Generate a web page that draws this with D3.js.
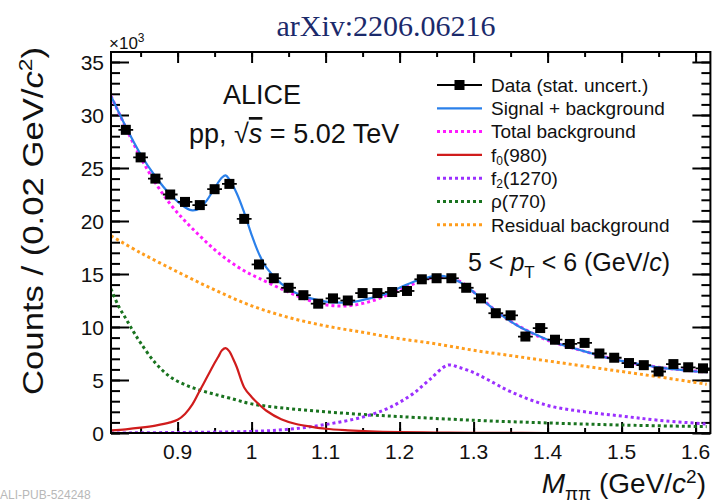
<!DOCTYPE html>
<html><head><meta charset="utf-8">
<script src="https://cdn.jsdelivr.net/npm/d3@7"></script>
<style>
body{margin:0;background:#fff;}
svg{display:block;}
text{font-family:"Liberation Sans",Arial,sans-serif;fill:#111;}
</style></head>
<body>
<svg id="c" width="713" height="503"></svg>
<script>
// ---------- data (counts in units of 10^3) ----------
const massBins = [0.83,0.85,0.87,0.89,0.91,0.93,0.95,0.97,0.99,1.01,1.03,1.05,1.07,1.09,1.11,1.13,1.15,1.17,1.19,1.21,1.23,1.25,1.27,1.29,1.31,1.33,1.35,1.37,1.39,1.41,1.43,1.45,1.47,1.49,1.51,1.53,1.55,1.57,1.59,1.61];
const counts = [28.6,26.0,24.0,22.5,21.8,21.5,23.0,23.5,20.2,15.9,14.6,13.7,13.0,12.2,12.7,12.5,13.2,13.2,13.3,13.4,14.5,14.6,14.6,13.7,12.7,11.3,11.1,9.1,9.9,8.8,8.4,8.5,7.5,7.1,6.6,6.4,5.8,6.5,6.2,6.1];
const countErr = [0.3,0.3,0.3,0.3,0.3,0.3,0.3,0.3,0.3,0.3,0.25,0.25,0.25,0.25,0.25,0.25,0.25,0.25,0.25,0.25,0.25,0.25,0.25,0.25,0.25,0.25,0.25,0.2,0.2,0.2,0.2,0.2,0.2,0.2,0.2,0.2,0.2,0.2,0.2,0.2];

const sigBgX = [0.81,0.83,0.85,0.87,0.89,0.91,0.92,0.93,0.94,0.95,0.96,0.965,0.97,0.98,0.99,1.0,1.01,1.02,1.04,1.06,1.08,1.10,1.12,1.14,1.16,1.18,1.20,1.22,1.24,1.25,1.26,1.28,1.30,1.32,1.34,1.36,1.38,1.40,1.42,1.44,1.46,1.48,1.50,1.52,1.54,1.56,1.58,1.60,1.615];
const sigBgY = [31.8,28.9,26.3,24.2,22.5,21.3,21.0,21.2,22.0,23.1,24.1,24.3,23.9,22.6,20.8,18.7,16.9,15.6,14.1,13.2,12.7,12.4,12.3,12.4,12.7,13.1,13.7,14.3,14.7,14.85,14.8,14.3,13.3,12.1,11.0,10.1,9.4,8.8,8.3,7.9,7.5,7.1,6.8,6.55,6.3,6.1,5.95,5.8,5.75];

const totBgX = [0.81,0.83,0.85,0.87,0.89,0.91,0.93,0.95,0.97,0.99,1.01,1.04,1.07,1.10,1.13,1.16,1.19,1.22,1.25,1.28,1.31,1.34,1.37,1.40,1.45,1.50,1.55,1.615];
const totBgY = [31.8,28.8,26.0,23.6,21.6,20.0,18.6,17.3,16.2,15.3,14.6,13.6,12.7,12.1,12.0,12.4,13.2,14.1,14.7,14.35,12.7,11.0,9.75,8.75,7.7,6.8,6.2,5.75];

const f0X = [0.81,0.83,0.85,0.87,0.89,0.90,0.91,0.92,0.93,0.94,0.95,0.955,0.96,0.965,0.97,0.975,0.98,0.99,1.00,1.01,1.02,1.04,1.06,1.08,1.10,1.13,1.16,1.20,1.25,1.30,1.40,1.50,1.615];
const f0Y = [0.25,0.35,0.5,0.7,1.0,1.25,1.8,2.7,4.0,5.3,6.6,7.2,7.8,8.0,7.7,7.0,6.2,4.3,3.4,2.7,2.1,1.3,0.85,0.6,0.4,0.25,0.15,0.08,0.04,0.02,0,0,0];

const f2X = [0.81,0.9,1.0,1.05,1.1,1.15,1.18,1.2,1.22,1.24,1.265,1.28,1.30,1.32,1.35,1.40,1.45,1.50,1.55,1.615];
const f2Y = [0.0,0.05,0.15,0.35,0.8,1.5,2.2,2.9,3.8,5.0,6.4,6.2,5.7,5.0,3.9,2.6,2.0,1.6,1.2,0.85];

const rhoX = [0.81,0.82,0.83,0.84,0.85,0.87,0.89,0.91,0.93,0.95,0.97,1.0,1.05,1.1,1.15,1.2,1.3,1.4,1.5,1.615];
const rhoY = [13.6,12.0,10.8,9.6,8.5,6.6,5.3,4.55,4.05,3.65,3.3,2.75,2.3,2.0,1.75,1.55,1.2,0.95,0.75,0.6];

const resBgX = [0.81,0.85,0.90,0.95,1.00,1.05,1.10,1.15,1.20,1.25,1.30,1.35,1.40,1.45,1.50,1.55,1.615];
const resBgY = [18.6,17.0,15.2,13.5,12.0,10.9,10.1,9.5,8.9,8.4,7.8,7.3,6.8,6.3,5.8,5.3,4.6];

const xTicks = [0.9,1.0,1.1,1.2,1.3,1.4,1.5,1.6];
const xTickLabels = ["0.9","1","1.1","1.2","1.3","1.4","1.5","1.6"];
const yTicks = [0,5,10,15,20,25,30,35];

const legendLabels = ["Data (stat. uncert.)","Signal + background","Total background","f0(980)","f2(1270)","ρ(770)","Residual background"];

// ---------- drawing ----------
const svg = d3.select("#c");
const L=111, R=710.4, T=52, B=433;
const x = d3.scaleLinear().domain([0.81,1.62]).range([L,R]);
const y = d3.scaleLinear().domain([0,36]).range([B,B-36*10.6]);

svg.append("clipPath").attr("id","pc").append("rect")
  .attr("x",L).attr("y",T).attr("width",R-L).attr("height",B-T);

// axes ticks (inward)
const g = svg.append("g");
const xMinor = d3.range(0.85,1.62,0.05).map(v=>+v.toFixed(2));
function tickAxis(axisFn, scale, vals, size, transform){
  g.append("g").attr("transform",transform)
   .call(axisFn(scale).tickValues(vals).tickSize(size).tickFormat(""))
   .call(s=>{s.select(".domain").remove(); s.selectAll("line").attr("stroke","#000").attr("stroke-width",2);});
}
tickAxis(d3.axisBottom, x, xMinor, -5, `translate(0,${B})`);
tickAxis(d3.axisBottom, x, xTicks, -11, `translate(0,${B})`);
tickAxis(d3.axisTop, x, xMinor, -5, `translate(0,${T})`);
tickAxis(d3.axisTop, x, xTicks, -11, `translate(0,${T})`);
const yMinor = d3.range(0,36,1);
tickAxis(d3.axisLeft, y, yMinor, -9, `translate(${L},0)`);
tickAxis(d3.axisLeft, y, yTicks, -18, `translate(${L},0)`);
tickAxis(d3.axisRight, y, yMinor, -9, `translate(${R},0)`);
tickAxis(d3.axisRight, y, yTicks, -18, `translate(${R},0)`);

// tick labels
svg.append("g").selectAll("text").data(xTicks).join("text")
  .attr("x",d=>x(d)).attr("y",459).attr("text-anchor","middle")
  .attr("font-size",21).text((d,i)=>xTickLabels[i]);
svg.append("g").selectAll("text").data(yTicks).join("text")
  .attr("x",104).attr("y",d=>y(d)).attr("dy","0.36em").attr("text-anchor","end")
  .attr("font-size",21).text(d=>d);

// x10^3
const e3 = svg.append("text").attr("x",109).attr("y",49).attr("font-size",17);
e3.append("tspan").text("×10");
e3.append("tspan").attr("dy",-7).attr("font-size",12).text("3");

// curves
const plot = svg.append("g").attr("clip-path","url(#pc)");
const line = d3.line().x(d=>x(d[0])).y(d=>y(d[1])).curve(d3.curveCatmullRom.alpha(0.5));
const curves = [
  {xs:resBgX, ys:resBgY, color:"#ff9d1c", dash:"3,3"},
  {xs:rhoX, ys:rhoY, color:"#19731f", dash:"3,3"},
  {xs:f2X, ys:f2Y, color:"#9b30ff", dash:"3,3"},
  {xs:f0X, ys:f0Y, color:"#d01c1c", dash:null},
  {xs:totBgX, ys:totBgY, color:"#ff1aff", dash:"3,3"},
  {xs:sigBgX, ys:sigBgY, color:"#2b80ea", dash:null}
];
curves.forEach(c=>{
  plot.append("path").datum(c.xs.map((v,i)=>[v,c.ys[i]]))
    .attr("d",line).attr("fill","none").attr("stroke",c.color)
    .attr("stroke-width", c.dash?3:2.2).attr("stroke-dasharray",c.dash);
});

// data points
const pts = plot.append("g");
massBins.forEach((m,i)=>{
  const cx=x(m), cy=y(counts[i]);
  pts.append("line").attr("x1",x(m-0.01)).attr("x2",x(m+0.01)).attr("y1",cy).attr("y2",cy).attr("stroke","#000").attr("stroke-width",1.8);
  pts.append("line").attr("x1",cx).attr("x2",cx).attr("y1",y(counts[i]-countErr[i])-1).attr("y2",y(counts[i]+countErr[i])+1).attr("stroke","#000").attr("stroke-width",1.8);
  pts.append("rect").attr("x",cx-5).attr("y",cy-5).attr("width",10).attr("height",10).attr("fill","#000");
});

// frame
svg.append("rect").attr("x",L).attr("y",T).attr("width",R-L).attr("height",B-T)
  .attr("fill","none").attr("stroke","#000").attr("stroke-width",2);

// legend
const lg = svg.append("g");
const legStyle = [
  {color:"#000",dash:null,marker:true},
  {color:"#2b80ea",dash:null},
  {color:"#ff1aff",dash:"3,3"},
  {color:"#d01c1c",dash:null},
  {color:"#9b30ff",dash:"3,3"},
  {color:"#19731f",dash:"3,3"},
  {color:"#ff9d1c",dash:"3,3"}
];
legendLabels.forEach((lab,i)=>{
  const ly = 85 + i*23.3;
  const s = legStyle[i];
  lg.append("line").attr("x1",437).attr("x2",482).attr("y1",ly).attr("y2",ly)
    .attr("stroke",s.color).attr("stroke-width",s.dash?3:(s.marker?1.8:2.2)).attr("stroke-dasharray",s.dash);
  if(s.marker) lg.append("rect").attr("x",454.5).attr("y",ly-5).attr("width",10).attr("height",10).attr("fill","#000");
  const t = lg.append("text").attr("x",491).attr("y",ly).attr("dy","0.36em").attr("font-size",19);
  if(i===3||i===4){
    t.append("tspan").text("f");
    t.append("tspan").attr("dy",3).attr("font-size",12).text(i===3?"0":"2");
    t.append("tspan").attr("dy",-3).text(lab.slice(2));
  } else t.text(lab);
});

// annotations
svg.append("text").attr("x",262).attr("y",104).attr("text-anchor","middle").attr("font-size",27).text("ALICE");
const pp = svg.append("text").attr("x",189).attr("y",143).attr("font-size",27);
pp.append("tspan").text("pp, √");
pp.append("tspan").attr("font-style","italic").style("text-decoration","overline").text("s");
pp.append("tspan").text(" = 5.02 TeV");

const pt = svg.append("text").attr("x",468).attr("y",271).attr("font-size",25);
pt.append("tspan").text("5 < ");
pt.append("tspan").attr("font-style","italic").text("p");
pt.append("tspan").attr("dy",7).attr("font-size",17).text("T");
pt.append("tspan").attr("dy",-7).text(" < 6 (GeV/");
pt.append("tspan").attr("font-style","italic").text("c");
pt.append("tspan").text(")");

// axis titles
const yt = svg.append("text").attr("transform","translate(43,221) rotate(-90)")
  .attr("text-anchor","middle").attr("font-size",29)
  .attr("textLength",348).attr("lengthAdjust","spacingAndGlyphs");
yt.append("tspan").text("Counts / (0.02 GeV/");
yt.append("tspan").attr("font-style","italic").text("c");
yt.append("tspan").attr("dy",-11).attr("font-size",19).text("2");
yt.append("tspan").attr("dy",11).text(")");

const xt = svg.append("text").attr("x",706).attr("y",493).attr("text-anchor","end").attr("font-size",28);
xt.append("tspan").attr("font-style","italic").text("M");
xt.append("tspan").attr("dy",7).attr("font-size",19).text("ππ");
xt.append("tspan").attr("dy",-7).text(" (GeV/");
xt.append("tspan").attr("font-style","italic").text("c");
xt.append("tspan").attr("dy",-10).attr("font-size",19).text("2");
xt.append("tspan").attr("dy",10).text(")");

// arXiv label and figure id
svg.append("text").attr("x",386).attr("y",36).attr("text-anchor","middle")
  .style("font-family","'Liberation Serif','Times New Roman',serif").style("fill","#1b2a6b")
  .attr("font-size",30).text("arXiv:2206.06216");
svg.append("text").attr("x",0).attr("y",499).attr("font-size",12)
  .style("fill","#b8b8b8").text("ALI-PUB-524248");
</script>
</body></html>
